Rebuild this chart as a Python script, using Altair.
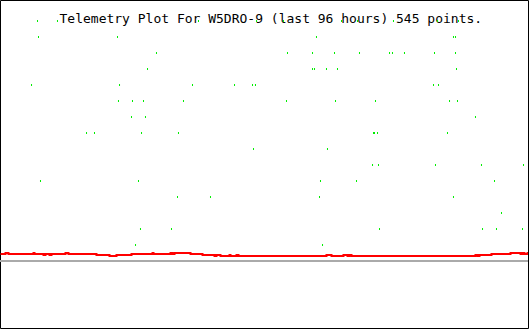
import altair as alt
import pandas as pd

TITLE = "Telemetry Plot For W5DRO-9 (last 96 hours) 545 points."

# Green telemetry samples: hours ago (negative) and quantised level
green_hours = [
    -89.27, -85.64, -60.00, -49.45, -44.55, -34.00, -31.09, -24.55, -16.55, -12.73,
    -89.09, -74.73, -38.55, -13.64, -13.27,
    -67.64, -43.82, -39.27, -35.27, -30.73, -25.27, -24.73, -22.55, -17.09, -13.27,
    -69.27, -39.27, -38.91, -36.73, -34.73, -13.09,
    -90.36, -74.36, -61.09, -53.45, -50.18, -49.64, -17.27, -16.36,
    -74.55, -72.00, -70.00, -62.73, -44.00, -35.09, -27.82, -14.36, -12.91,
    -72.18, -69.64, -9.64,
    -80.36, -78.91, -70.36, -63.64, -28.18, -28.00, -27.45, -14.73,
    -50.00, -36.55,
    -28.36, -27.27, -16.91, -8.55, -0.91,
    -88.73, -70.91, -37.82, -31.27, -6.18,
    -63.82, -57.82, -38.00, -13.64,
    -4.91,
    -70.55, -64.91, -27.09, -8.36, -5.82, -1.09,
    -71.45, -37.45,
]
green_level = (
    [15] * 10 + [14] * 5 + [13] * 10 + [12] * 6 + [11] * 8 + [10] * 9 + [9] * 3
    + [8] * 8 + [7] * 2 + [6] * 5 + [5] * 5 + [4] * 4 + [3] * 1 + [2] * 6 + [1] * 2
)

# Red telemetry trace (step changes): hours ago and value
red_hours = [
    -96.00, -95.09, -94.55, -90.00, -89.82, -88.18, -87.82, -87.09, -86.73, -84.18,
    -83.64, -78.55, -76.18, -74.91, -72.18, -68.36, -68.18, -65.09, -64.73, -64.36,
    -61.45, -59.27, -57.09, -56.73, -56.00, -54.36, -54.18, -53.09, -52.73, -36.73,
    -35.82, -33.64, -32.91, -32.55, -32.18, -9.64, -9.27, -8.91, -6.73, -3.27,
    -1.45, -1.09, -0.73, -0.18, 0.00,
]
red_value = [
    0.4375, 0.5, 0.4375, 0.5, 0.4375, 0.375, 0.4375, 0.375, 0.4375, 0.5,
    0.4375, 0.375, 0.3125, 0.375, 0.4375, 0.5, 0.4375, 0.5, 0.4375, 0.5,
    0.4375, 0.375, 0.3125, 0.375, 0.3125, 0.375, 0.3125, 0.375, 0.3125, 0.375,
    0.3125, 0.375, 0.3125, 0.375, 0.3125, 0.375, 0.3125, 0.375, 0.4375, 0.5,
    0.4375, 0.5, 0.4375, 0.5, 0.5,
]

baseline_value = [0]

# scale domains (slightly widened so marks sit on whole pixels)
X_DOMAIN = [-96.0909, -0.0909]
Y_DOMAIN = [-4.1875, 16.3125]

xs = alt.Scale(domain=X_DOMAIN, nice=False, zero=False)
ys = alt.Scale(domain=Y_DOMAIN, nice=False, zero=False)

green_df = pd.DataFrame({"h": green_hours, "v": green_level})
red_df = pd.DataFrame({"h": red_hours, "v": red_value})
base_df = pd.DataFrame({"v": baseline_value})
title_df = pd.DataFrame({"t": [TITLE]})

title = alt.Chart(title_df).mark_text(
    font="DejaVu Sans Mono", fontSize=13, color="black", align="left",
    baseline="alphabetic",
).encode(text="t:N", x=alt.value(59.5), y=alt.value(23))

base = alt.Chart(base_df).mark_rule(color="#aaaaaa", strokeWidth=2).encode(
    y=alt.Y("v:Q", scale=ys, axis=None)
)

red = alt.Chart(red_df).mark_line(
    color="#ff0000", strokeWidth=2, interpolate="step-after", clip=True
).encode(
    x=alt.X("h:Q", scale=xs, axis=None),
    y=alt.Y("v:Q", scale=ys, axis=None),
)

green = alt.Chart(green_df).mark_tick(
    color="#00ee00", orient="vertical", thickness=1, size=2, opacity=1
).encode(
    x=alt.X("h:Q", scale=xs, axis=None),
    y=alt.Y("v:Q", scale=ys, axis=None),
)

chart = alt.layer(title, base, red, green).properties(
    width=528,
    height=328,
    autosize=alt.AutoSizeParams(type="none"),
    padding={"left": 0, "top": 0, "right": 2, "bottom": 2},
    background="white",
).configure_view(stroke="black", strokeWidth=1, fill="white")

chart.save("out.html", embed_options={"renderer": "svg", "actions": False})
